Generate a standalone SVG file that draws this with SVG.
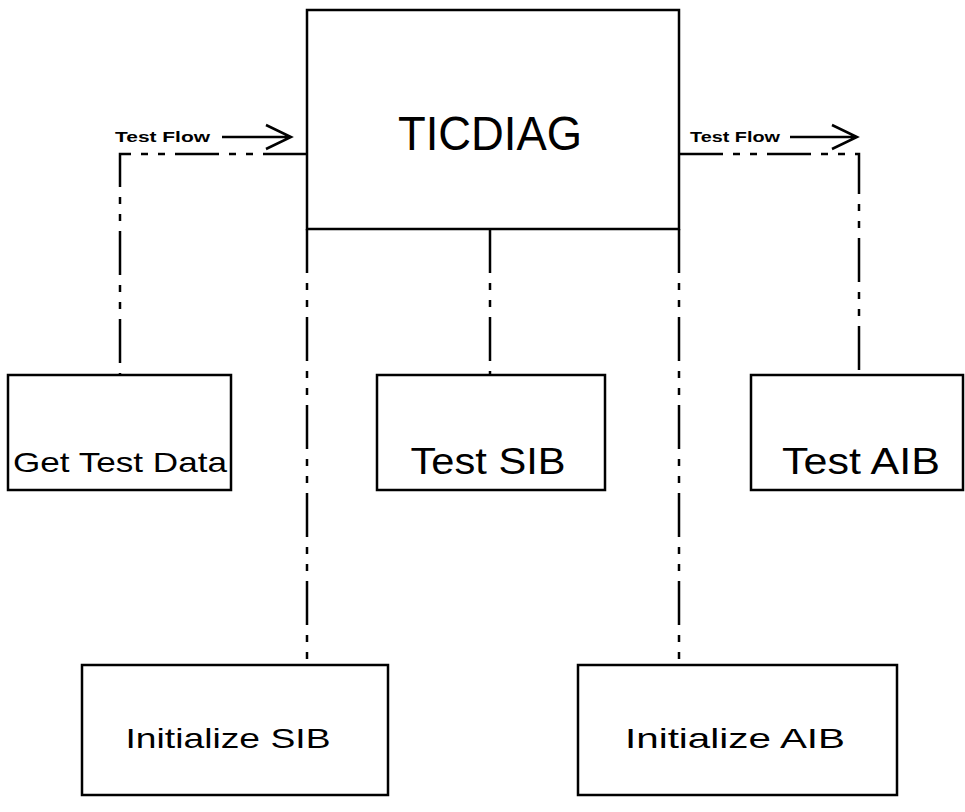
<svg xmlns="http://www.w3.org/2000/svg" width="965" height="812" viewBox="0 0 965 812">
<style>
.box{fill:#fff;stroke:#000;stroke-width:2.5}
.lbl{font-family:"Liberation Sans",Arial,sans-serif;fill:#000;text-anchor:middle}
.flow{font-family:"Liberation Sans",Arial,sans-serif;font-weight:bold;font-size:15px;fill:#000}
.dd{fill:none;stroke:#000;stroke-width:2.5;stroke-dasharray:44 10 7 10 7 10}
.solid{fill:none;stroke:#000;stroke-width:2.5}
.arr{fill:none;stroke:#000;stroke-width:2.5;stroke-linejoin:miter}
</style>
<rect width="965" height="812" fill="#fff"/>
<g id="connectors">
<path class="dd" d="M307,154 H120 V375"/>
<path class="dd" d="M679,154 H859 V375"/>
<path class="dd" d="M490,229 V375"/>
<path class="dd" d="M307,229 V665"/>
<path class="dd" d="M679,229 V665"/>
<text class="flow" x="115" y="142" textLength="95" lengthAdjust="spacingAndGlyphs">Test Flow</text>
<path class="arr" d="M222,137 H291 M266,125 L291,137 L266,149"/>
<text class="flow" x="690" y="142" textLength="90" lengthAdjust="spacingAndGlyphs">Test Flow</text>
<path class="arr" d="M790,137 H857 M832,125 L857,137 L832,149"/>
</g>
<g id="ticdiag">
<rect class="box" x="307" y="10" width="372" height="219"/>
<text class="lbl" x="490" y="150" font-size="48" textLength="184" lengthAdjust="spacingAndGlyphs">TICDIAG</text>
</g>
<g id="get-test-data">
<rect class="box" x="8" y="375" width="223" height="115"/>
<text class="lbl" x="120" y="472" font-size="28" textLength="214" lengthAdjust="spacingAndGlyphs">Get Test Data</text>
</g>
<g id="test-sib">
<rect class="box" x="377" y="375" width="228" height="115"/>
<text class="lbl" x="488" y="474" font-size="36" textLength="155" lengthAdjust="spacingAndGlyphs">Test SIB</text>
</g>
<g id="test-aib">
<rect class="box" x="751" y="375" width="212" height="115"/>
<text class="lbl" x="861" y="474" font-size="36" textLength="158" lengthAdjust="spacingAndGlyphs">Test AIB</text>
</g>
<g id="initialize-sib">
<rect class="box" x="82" y="665" width="306" height="130"/>
<text class="lbl" x="228" y="748" font-size="28" textLength="205" lengthAdjust="spacingAndGlyphs">Initialize SIB</text>
</g>
<g id="initialize-aib">
<rect class="box" x="578" y="665" width="319" height="130"/>
<text class="lbl" x="735" y="748" font-size="28" textLength="220" lengthAdjust="spacingAndGlyphs">Initialize AIB</text>
</g>
</svg>
